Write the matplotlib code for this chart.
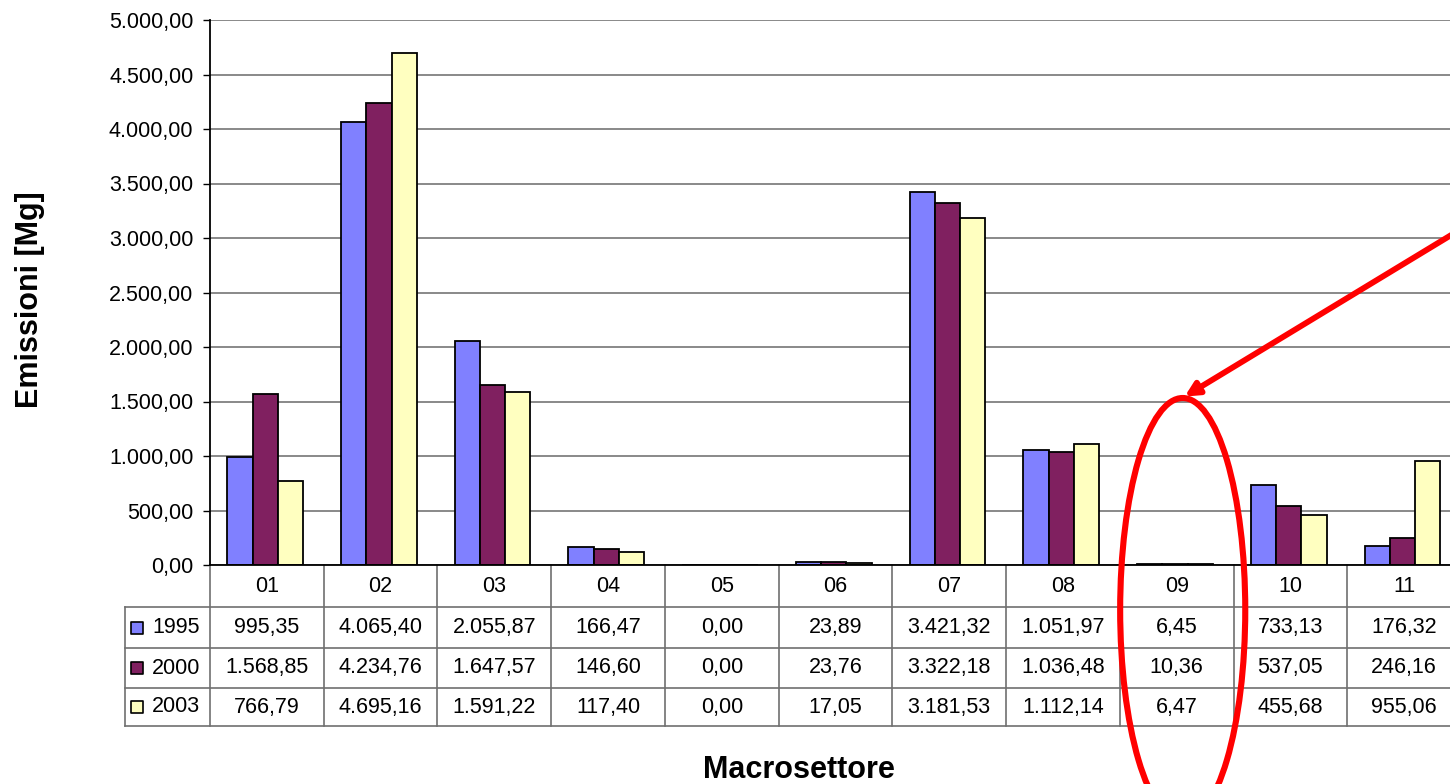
import matplotlib
matplotlib.use("Agg")
import matplotlib.pyplot as plt
import matplotlib.transforms as mtransforms
from matplotlib.patches import Ellipse
import numpy as np

plt.rcParams['font.family'] = ['Liberation Sans', 'DejaVu Sans']

############   DATA   #############
settori = ["01", "02", "03", "04", "05", "06", "07", "08", "09", "10", "11"]
anni = ["1995", "2000", "2003"]
em_1995 = [995.35, 4065.40, 2055.87, 166.47, 0.00, 23.89, 3421.32, 1051.97, 6.45, 733.13, 176.32]
em_2000 = [1568.85, 4234.76, 1647.57, 146.60, 0.00, 23.76, 3322.18, 1036.48, 10.36, 537.05, 246.16]
em_2003 = [766.79, 4695.16, 1591.22, 117.40, 0.00, 17.05, 3181.53, 1112.14, 6.47, 455.68, 955.06]
colori = ["#8080FF", "#802060", "#FFFFC0"]
y_ticks = np.arange(0, 5001, 500)


def fmt_it(v):
    # 1234.5 -> "1.234,50"
    s = "{:,.2f}".format(v)
    return s.replace(",", "X").replace(".", ",").replace("X", ".")


fig = plt.figure(figsize=(14.5, 7.84), dpi=100)
W, H = 1450.0, 784.0
# plot area runs slightly past the right edge of the image
ax = fig.add_axes([210 / W, 1 - 565 / H, 1251 / W, 545 / H])

serie = [em_1995, em_2000, em_2003]
x = np.arange(len(settori))
w = 0.222
for i, (vals, col) in enumerate(zip(serie, colori)):
    ax.bar(x + (i - 1) * w - 0.015, vals, width=w, color=col, edgecolor="black",
           linewidth=1.3, zorder=3)

ax.set_xlim(-0.5, len(settori) - 0.5)
ax.set_ylim(0, 5000)
ax.set_yticks(y_ticks)
ax.set_yticklabels([fmt_it(v) for v in y_ticks], fontsize=15.5)
ax.set_xticks([])
ax.yaxis.grid(True, color="#808080", linewidth=1.3, zorder=0)
ax.tick_params(axis="y", length=5, width=1, pad=7, direction="out")
for s in ["top", "right"]:
    ax.spines[s].set_visible(False)
ax.spines["left"].set_linewidth(1.3)
ax.spines["bottom"].set_linewidth(1.3)
ax.spines["bottom"].set_zorder(4)

#--- data table below the plot ---
trans = mtransforms.blended_transform_factory(ax.transData, ax.transAxes)
row_y = [0, -42 / 545, -83 / 545, -123 / 545, -161 / 545]
lab_left = -1.25
grid_kw = dict(color="#707070", linewidth=1.2, transform=trans, clip_on=False)

for k in range(len(settori) + 1):
    ax.plot([k - 0.5, k - 0.5], [row_y[0], row_y[-1]], **grid_kw)
ax.plot([lab_left, lab_left], [row_y[1], row_y[-1]], **grid_kw)
for yy in row_y[1:]:
    ax.plot([lab_left, len(settori) + 0.5], [yy, yy], **grid_kw)

for k, lab in enumerate(settori):
    ax.text(k, (row_y[0] + row_y[1]) / 2, lab, transform=trans, ha="center",
            va="center", fontsize=15.5, clip_on=False)

for r, (anno, vals, col) in enumerate(zip(anni, serie, colori)):
    yc = (row_y[r + 1] + row_y[r + 2]) / 2
    ax.scatter([-1.145], [yc], marker="s", s=80, color=col, edgecolor="black",
               linewidth=1.2, transform=trans, clip_on=False, zorder=5)
    ax.text(-1.01, yc, anno, transform=trans, ha="left", va="center",
            fontsize=15.5, clip_on=False)
    for k, v in enumerate(vals):
        ax.text(k, yc, fmt_it(v), transform=trans, ha="center", va="center",
                fontsize=15.5, clip_on=False)

fig.text(30 / W, 1 - 300 / H, "Emissioni [Mg]", rotation=90, ha="center",
         va="center", fontsize=22, fontweight="bold")
fig.text(799 / W, 1 - 770 / H, "Macrosettore", ha="center", va="center",
         fontsize=22, fontweight="bold")

#--- highlight on sector 09 ---
idx09 = settori.index("09")
ell = Ellipse((idx09 + 0.053, -45 / 545), width=1.10, height=424 / 545,
              transform=trans, fill=False, edgecolor="#FF0000", linewidth=4.4,
              clip_on=False, zorder=6)
ax.add_patch(ell)
ax.annotate("", xy=(idx09 + 0.07, 1545), xytext=(10.75, 3240),
            arrowprops=dict(arrowstyle="-|>", color="#FF0000", lw=4.2,
                            mutation_scale=20, shrinkA=0, shrinkB=0),
            annotation_clip=False, zorder=6)

fig.savefig("out.png", dpi=100)
